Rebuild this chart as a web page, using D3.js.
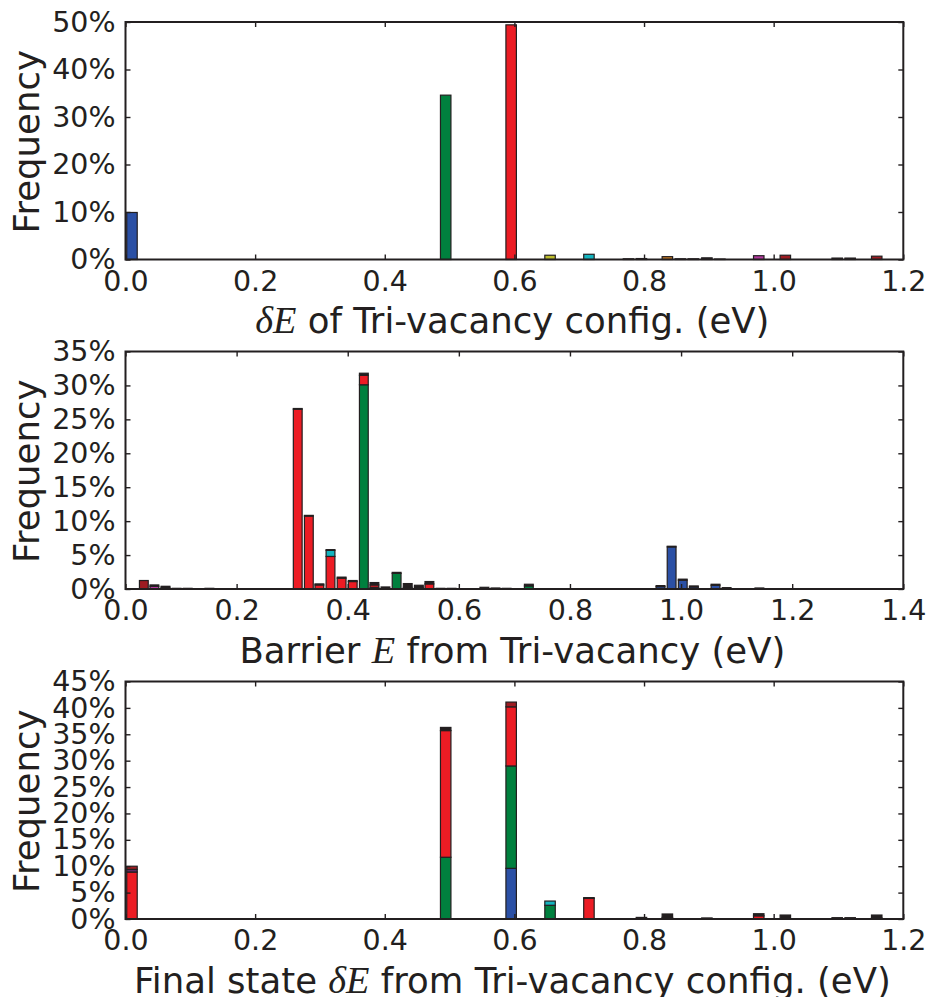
<!DOCTYPE html>
<html>
<head>
<meta charset="utf-8">
<script src="https://cdn.jsdelivr.net/npm/d3@7"></script>
<style>
  html, body { margin: 0; padding: 0; background: #fff; }
  svg { display: block; }
</style>
</head>
<body>
<svg id="chart" width="931" height="997"></svg>
<script>
// Stacked histograms of tri-vacancy energies, coloured by configuration family.

// Stacking order (bottom to top) and fill of each configuration family.
const seriesOrder = ["blue", "green", "red", "cyan", "magenta", "yellow", "orange", "purple", "darkred", "black"];
const seriesColor = {
  blue: "#2b50a5", green: "#00803e", red: "#ec1c24", cyan: "#14b4bf",
  magenta: "#b33a9f", yellow: "#bdbd2c", orange: "#c67b22", purple: "#5e2b63",
  darkred: "#9d1c22", black: "#231f20"
};

// Panel 1: δE of tri-vacancy configurations. Bin centres (eV) and stacked segments (% of total).
const configBins = [0.010, 0.494, 0.595, 0.655, 0.715, 0.776, 0.796, 0.836, 0.856, 0.876, 0.897, 0.917, 0.977, 1.018, 1.098, 1.118, 1.159];
const configStacks = [
  [["blue", 9.9]], [["green", 34.6]], [["red", 49.4]], [["yellow", 0.9]], [["cyan", 1.1]],
  [["black", 0.15]], [["black", 0.2]], [["orange", 0.6]], [["black", 0.15]], [["black", 0.15]],
  [["black", 0.35]], [["black", 0.1]], [["magenta", 0.8]], [["darkred", 0.9]], [["black", 0.3]],
  [["black", 0.3]], [["darkred", 0.7]]
];

// Panel 2: migration barriers from the tri-vacancy.
const barrierBins = [0.033, 0.052, 0.072, 0.092, 0.112, 0.151, 0.310, 0.330, 0.349, 0.369, 0.389, 0.409,
  0.429, 0.448, 0.468, 0.488, 0.508, 0.528, 0.547, 0.567, 0.587, 0.607, 0.627, 0.646, 0.666, 0.686,
  0.726, 0.963, 0.983, 1.003, 1.023, 1.062, 1.082, 1.141];
const barrierStacks = [
  [["darkred", 1.25]],
  [["magenta", 0.4], ["black", 0.2]],
  [["darkred", 0.25], ["black", 0.15]],
  [["black", 0.1]], [["black", 0.1]], [["black", 0.1]],
  [["red", 26.5], ["black", 0.1]],
  [["red", 10.75], ["black", 0.1]],
  [["red", 0.6], ["black", 0.15]],
  [["red", 4.8], ["cyan", 0.9], ["black", 0.1]],
  [["red", 1.6], ["black", 0.15]],
  [["red", 1.1], ["black", 0.15]],
  [["green", 30.1], ["red", 1.4], ["black", 0.3]],
  [["green", 0.25], ["red", 0.35], ["black", 0.35]],
  [["black", 0.3]],
  [["green", 2.3], ["black", 0.15]],
  [["green", 0.25], ["black", 0.55]],
  [["yellow", 0.25], ["black", 0.3]],
  [["red", 0.75], ["black", 0.35]],
  [["black", 0.1]], [["black", 0.1]], [["black", 0.05]], [["black", 0.05]],
  [["black", 0.25]], [["black", 0.15]], [["black", 0.1]],
  [["green", 0.45], ["black", 0.25]],
  [["blue", 0.35], ["black", 0.15]],
  [["blue", 6.2], ["black", 0.1]],
  [["blue", 1.3], ["black", 0.15]],
  [["blue", 0.3], ["black", 0.15]],
  [["blue", 0.55], ["black", 0.15]],
  [["black", 0.2]],
  [["black", 0.15]]
];

// Panel 3: δE of the final state reached from the tri-vacancy.
const finalBins = [0.010, 0.494, 0.595, 0.655, 0.715, 0.796, 0.836, 0.897, 0.977, 1.018, 1.098, 1.118, 1.159];
const finalStacks = [
  [["red", 8.9], ["purple", 0.5], ["darkred", 0.6]],
  [["green", 11.7], ["red", 24.0], ["black", 0.6]],
  [["blue", 9.6], ["green", 19.4], ["red", 11.2], ["darkred", 0.9]],
  [["green", 2.6], ["cyan", 0.8]],
  [["red", 3.9], ["black", 0.15]],
  [["black", 0.3]],
  [["darkred", 0.3], ["black", 0.65]],
  [["black", 0.2]],
  [["red", 0.6], ["black", 0.4]],
  [["black", 0.75]],
  [["black", 0.25]],
  [["black", 0.25]],
  [["green", 0.2], ["black", 0.55]]
];

// Tick values.
const xTicksConfig = [0, 0.2, 0.4, 0.6, 0.8, 1.0, 1.2];
const xTicksBarrier = [0, 0.2, 0.4, 0.6, 0.8, 1.0, 1.2, 1.4];
const yTicksConfig = [0, 10, 20, 30, 40, 50];
const yTicksBarrier = [0, 5, 10, 15, 20, 25, 30, 35];
const yTicksFinal = [0, 5, 10, 15, 20, 25, 30, 35, 40, 45];

const ink = "#231f20";
const tickFont = 28.5, labelFont = 35.5;
const left = 125.5, right = 903.3, panelH = 237.5;
const svg = d3.select("#chart");

function drawPanel(p) {
  const g = svg.append("g");
  const x = d3.scaleLinear().domain([0, p.xMax]).range([left, right]);
  const y = d3.scaleLinear().domain([0, p.yMax]).range([p.top + panelH, p.top]);

  // wide rows for d3.stack
  const rows = p.bins.map((c, i) => {
    const r = { center: c };
    seriesOrder.forEach(k => r[k] = 0);
    p.stacks[i].forEach(([k, v]) => r[k] += v);
    return r;
  });
  const layers = d3.stack().keys(seriesOrder)(rows);
  const barW = 0.8 * p.binWidth;

  layers.forEach(layer => {
    g.append("g").selectAll("rect")
      .data(layer.filter(d => d[1] - d[0] > 0))
      .join("rect")
      .attr("x", d => x(d.data.center - barW / 2))
      .attr("width", d => x(d.data.center + barW / 2) - x(d.data.center - barW / 2))
      .attr("y", d => y(d[1]))
      .attr("height", d => y(d[0]) - y(d[1]))
      .attr("fill", seriesColor[layer.key])
      .attr("stroke", ink)
      .attr("stroke-width", 1.2);
  });

  const fmtX = d3.format(".1f");
  const style = sel => {
    sel.select(".domain").remove();
    sel.selectAll(".tick line").attr("stroke", ink).attr("stroke-width", 1.4);
    sel.selectAll(".tick text").attr("fill", ink)
      .attr("font-family", "DejaVu Sans").attr("font-size", tickFont);
  };

  g.append("g").attr("transform", `translate(0,${p.top + panelH})`)
    .call(d3.axisBottom(x).tickValues(p.xTicks).tickFormat(fmtX).tickSizeInner(-5).tickSizeOuter(0).tickPadding(11))
    .call(style);
  g.append("g").attr("transform", `translate(0,${p.top})`)
    .call(d3.axisTop(x).tickValues(p.xTicks).tickFormat("").tickSizeInner(-5).tickSizeOuter(0))
    .call(style);
  g.append("g").attr("transform", `translate(${left},0)`)
    .call(d3.axisLeft(y).tickValues(p.yTicks).tickFormat(d => d + "%").tickSizeInner(-5).tickSizeOuter(0).tickPadding(10))
    .call(style);
  g.append("g").attr("transform", `translate(${right},0)`)
    .call(d3.axisRight(y).tickValues(p.yTicks).tickFormat("").tickSizeInner(-5).tickSizeOuter(0))
    .call(style);

  // frame
  g.append("rect")
    .attr("x", left).attr("y", p.top)
    .attr("width", right - left).attr("height", panelH)
    .attr("fill", "none").attr("stroke", ink).attr("stroke-width", 2);

  // y label
  g.append("text")
    .attr("transform", `translate(39,${p.top + panelH / 2 + 1}) rotate(-90)`)
    .attr("text-anchor", "middle")
    .attr("font-family", "DejaVu Sans").attr("font-size", labelFont).attr("fill", ink)
    .text("Frequency");

  // x label with math-italic pieces
  const t = g.append("text")
    .attr("x", (left + right) / 2 - 2).attr("y", p.top + panelH + p.labelGap)
    .attr("text-anchor", "middle")
    .attr("font-family", "DejaVu Sans").attr("font-size", labelFont).attr("fill", ink);
  p.xlabel.forEach(([txt, math]) => {
    const s = t.append("tspan").text(txt);
    if (math) s.attr("font-family", "Liberation Serif").attr("font-style", "italic").attr("font-size", labelFont * 1.08);
  });
}

drawPanel({
  top: 22, xMax: 1.2, yMax: 50, binWidth: 0.0202, labelGap: 73,
  bins: configBins, stacks: configStacks, xTicks: xTicksConfig, yTicks: yTicksConfig,
  xlabel: [["δE", true], [" of Tri-vacancy config. (eV)", false]]
});
drawPanel({
  top: 351.5, xMax: 1.4, yMax: 35, binWidth: 0.0198, labelGap: 74,
  bins: barrierBins, stacks: barrierStacks, xTicks: xTicksBarrier, yTicks: yTicksBarrier,
  xlabel: [["Barrier ", false], ["E", true], [" from Tri-vacancy (eV)", false]]
});
drawPanel({
  top: 681.5, xMax: 1.2, yMax: 45, binWidth: 0.0202, labelGap: 74,
  bins: finalBins, stacks: finalStacks, xTicks: xTicksConfig, yTicks: yTicksFinal,
  xlabel: [["Final state ", false], ["δE", true], [" from Tri-vacancy config. (eV)", false]]
});
</script>
</body>
</html>
